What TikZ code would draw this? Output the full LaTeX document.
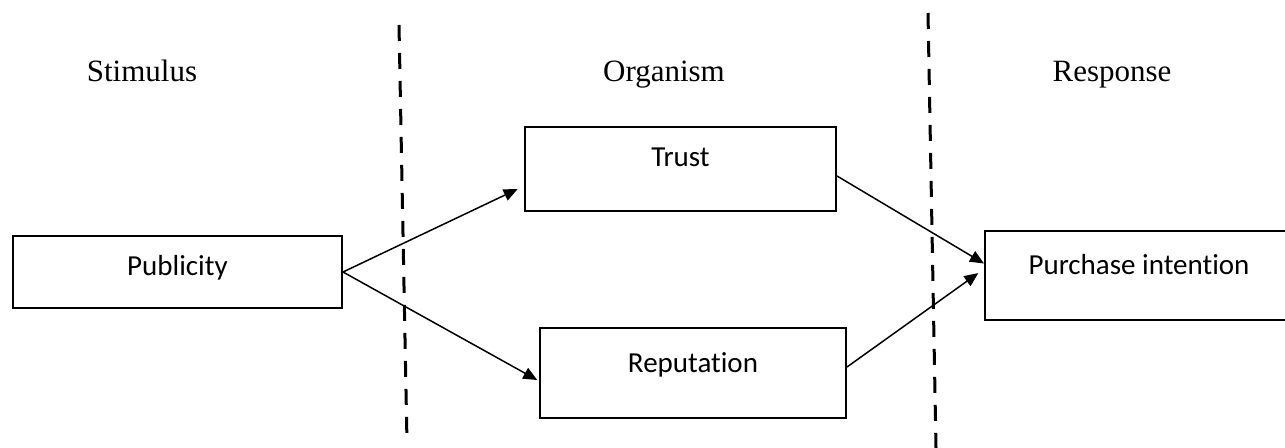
\documentclass[tikz,border=0pt]{standalone}
\usepackage{fontspec}
\setmainfont{Liberation Serif}
\newfontfamily\boxfont[Ligatures=NoCommon]{Carlito}
\usetikzlibrary{positioning}
\usetikzlibrary{arrows.meta}

\begin{document}
\begin{tikzpicture}[x=0.5pt, y=-0.5pt,
  block/.style={draw, rectangle, line width=1pt, inner sep=0pt, anchor=north west, text height=20pt, font=\boxfont\fontsize{14.5}{17}\selectfont},
  stage/.style={anchor=base, font=\fontsize{15.5}{18}\selectfont},
  link/.style={-{Triangle[length=7pt,width=6pt]}, line width=0.75pt},
  divider/.style={line width=1.5pt, dash pattern=on 8pt off 6pt}]
\useasboundingbox (0,0) rectangle (1285,448);
\node[stage] (Stim) at (142,82) {Stimulus};
\node[stage] (Org) at (664,82) {Organism};
\node[stage] (Resp) at (1112,82) {Response};
\node[block, minimum width=164.5pt, text depth=16pt] (Pub) at (12,235) {Publicity};
\node[block, minimum width=155.5pt, text depth=22pt] (Trust) at (524,126) {Trust};
\node[block, minimum width=153pt, text height=22.5pt, text depth=22.5pt] (Rep) at (539,327) {Reputation};
\node[block, minimum width=154pt, text height=22pt, text depth=22.5pt] (PI) at (984,230) {Purchase intention};
\draw[link, shorten >=3.5pt] (Pub.east) -- ([yshift=-8.5pt]Trust.west);
\draw[link, shorten >=1pt] (Pub.east) -- ([yshift=-4pt]Rep.west);
\draw[link] ([yshift=-3.5pt]Trust.east) -- ([yshift=6pt]PI.west);
\draw[link, shorten >=3.5pt] ([yshift=3pt]Rep.east) -- ([yshift=3.25pt]PI.west);
\draw[divider] (399,25) -- (407,443);
\draw[divider] (928,13) -- (936,448);
\end{tikzpicture}
\end{document}
